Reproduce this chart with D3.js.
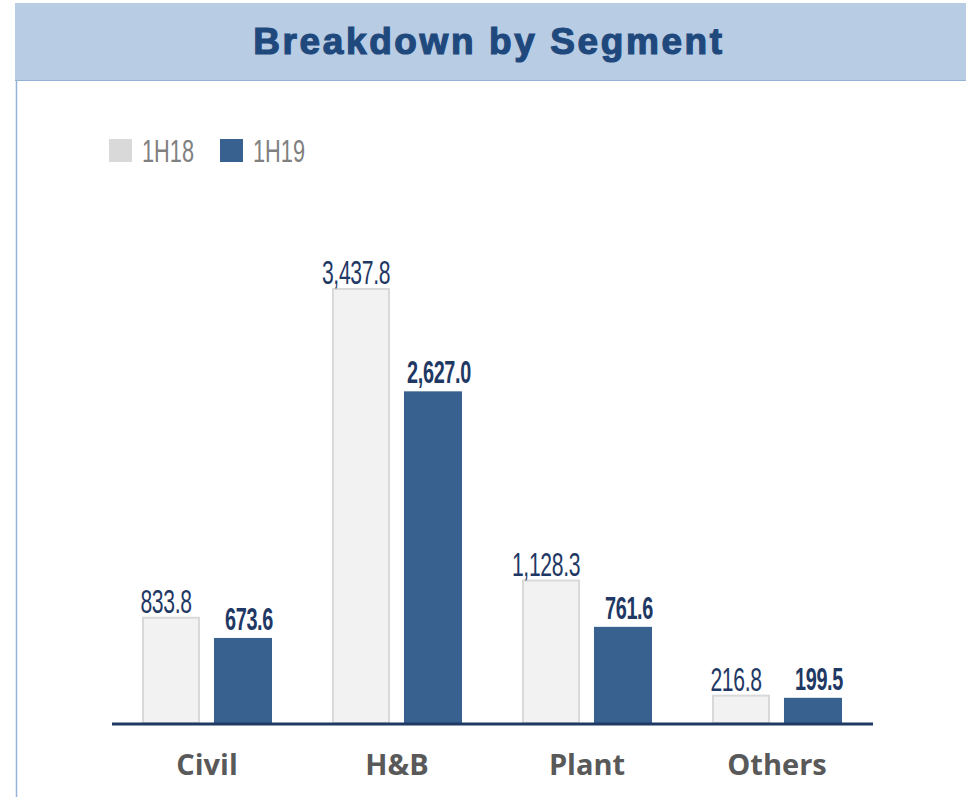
<!DOCTYPE html>
<html>
<head>
<meta charset="utf-8">
<script src="https://cdn.jsdelivr.net/npm/d3@7"></script>
<style>
  body { margin: 0; background: #fff; }
  svg { display: block; }
</style>
</head>
<body>
<div id="chart"></div>
<script>
const categories = ["Civil", "H&B", "Plant", "Others"];
const series = ["1H18", "1H19"];
const values_1h18 = [833.8, 3437.8, 1128.3, 216.8];
const values_1h19 = [673.6, 2627.0, 761.6, 199.5];

const width = 966;
const height = 797;
const base_y = 723;

const color_18 = "#f2f2f2";
const color_18_legend = "#d9d9d9";
const color_19 = "#386190";
const navy = "#1f3864";

const svg = d3.select("#chart")
  .append("svg")
  .attr("width", width)
  .attr("height", height);

// header band
svg.append("rect")
  .attr("x", 15).attr("y", 3)
  .attr("width", width - 15).attr("height", 77)
  .attr("fill", "#b8cce4");
svg.append("line")
  .attr("x1", 15).attr("x2", width)
  .attr("y1", 80.5).attr("y2", 80.5)
  .attr("stroke", "#95b3d7").attr("stroke-width", 1);
svg.append("line")
  .attr("x1", 16.5).attr("x2", 16.5)
  .attr("y1", 80).attr("y2", height)
  .attr("stroke", "#95b3d7").attr("stroke-width", 1.5);

svg.append("text")
  .attr("x", 489).attr("y", 54)
  .attr("text-anchor", "middle")
  .attr("font-family", "Liberation Sans, Arial, sans-serif")
  .attr("font-weight", "bold")
  .attr("font-size", 37)
  .attr("letter-spacing", "2.6px")
  .attr("fill", "#1f497d")
  .attr("stroke", "#1f497d")
  .attr("stroke-width", 1.2)
  .text("Breakdown by Segment");

// legend
const legend = svg.append("g");
const legend_items = [
  { name: series[0], fill: color_18_legend, x: 109 },
  { name: series[1], fill: color_19, x: 220 }
];
legend_items.forEach(d => {
  legend.append("rect")
    .attr("x", d.x).attr("y", 139)
    .attr("width", 23).attr("height", 23)
    .attr("fill", d.fill);
  legend.append("text")
    .attr("transform", `translate(${d.x + 33},162) scale(0.68,1)`)
    .attr("font-family", "Liberation Sans, Arial, sans-serif")
    .attr("font-size", 32)
    .attr("fill", "#808080")
    .text(d.name);
});

// scales
const x = d3.scaleBand()
  .domain(categories)
  .range([112, 872]);

const x_sub = d3.scaleBand()
  .domain(series)
  .range([30, 160])
  .paddingInner(0.194);

const y = d3.scaleLinear()
  .domain([0, 4000])
  .range([base_y, 218]);

const rows = categories.map((c, i) => ({
  cat: c,
  vals: [
    { s: series[0], v: values_1h18[i] },
    { s: series[1], v: values_1h19[i] }
  ]
}));

const groups = svg.selectAll("g.cat")
  .data(rows)
  .enter().append("g")
  .attr("class", "cat")
  .attr("transform", d => `translate(${x(d.cat)},0)`);

groups.selectAll("rect")
  .data(d => d.vals)
  .enter().append("rect")
  .attr("x", d => x_sub(d.s) + (d.s === series[0] ? 1 : 0))
  .attr("y", d => y(d.v))
  .attr("width", d => x_sub.bandwidth() - (d.s === series[0] ? 2 : 0))
  .attr("height", d => base_y - y(d.v))
  .attr("fill", d => d.s === series[0] ? color_18 : color_19)
  .attr("stroke", d => d.s === series[0] ? "#d9d9d9" : "none")
  .attr("stroke-width", 2);

const fmt = d3.format(",.1f");

groups.selectAll("text.val")
  .data(d => d.vals)
  .enter().append("text")
  .attr("class", "val")
  .attr("transform", d => {
    const bold = d.s === series[1];
    const cx = x_sub(d.s) + x_sub.bandwidth() / 2 + (bold ? 6 : -5);
    const cy = y(d.v) - (bold ? 8 : 5);
    return `translate(${cx},${cy}) scale(${bold ? 0.64 : 0.64},1)`;
  })
  .attr("text-anchor", "middle")
  .attr("font-family", "Liberation Sans, Arial, sans-serif")
  .attr("font-size", d => d.s === series[1] ? 31 : 33)
  .attr("font-weight", d => d.s === series[1] ? "bold" : "normal")
  .attr("letter-spacing", "-0.5px")
  .attr("fill", navy)
  .text(d => fmt(d.v));

// baseline axis
svg.append("line")
  .attr("x1", x.range()[0]).attr("x2", x.range()[1] + 1)
  .attr("y1", base_y + 1).attr("y2", base_y + 1)
  .attr("stroke", navy)
  .attr("stroke-width", 3);

// category labels
svg.selectAll("text.cat")
  .data(categories)
  .enter().append("text")
  .attr("class", "cat")
  .attr("x", d => x(d) + x.bandwidth() / 2)
  .attr("y", 775)
  .attr("text-anchor", "middle")
  .attr("font-family", "Open Sans, Noto Sans, sans-serif")
  .attr("font-weight", "bold")
  .attr("font-size", 29)
  .attr("fill", "#595959")
  .text(d => d);
</script>
</body>
</html>
